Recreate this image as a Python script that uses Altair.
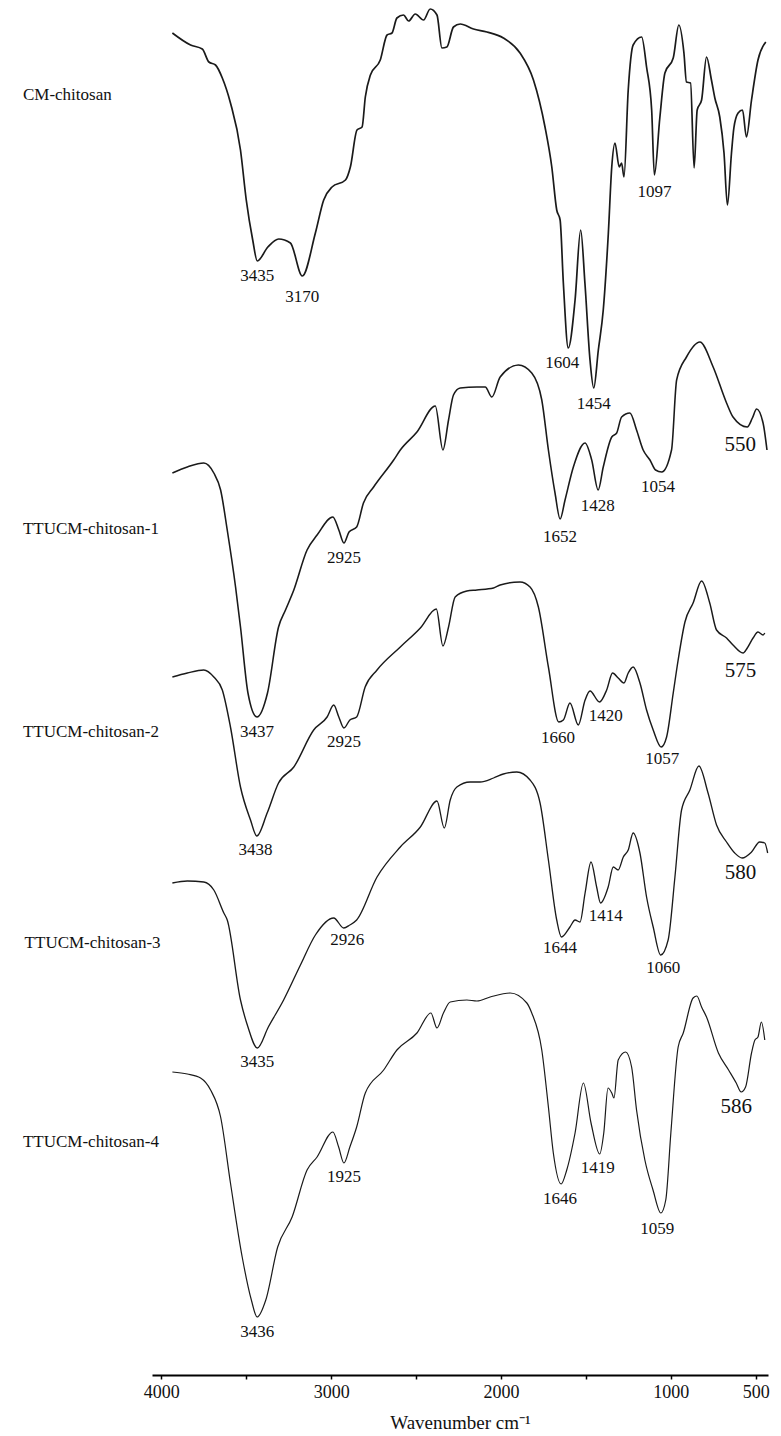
import altair as alt
import pandas as pd

# FTIR spectra, stacked with a vertical offset (arbitrary transmittance units)
SAMPLES = ["CM-chitosan", "TTUCM-chitosan-1", "TTUCM-chitosan-2",
           "TTUCM-chitosan-3", "TTUCM-chitosan-4"]

CM_WN = [3935, 3828, 3759, 3720, 3681, 3641, 3593, 3534, 3500, 3462, 3435, 3373, 3309, 3240,
         3170, 3093, 3044, 2995, 2916, 2887, 2848, 2818, 2799, 2769, 2711, 2671, 2642, 2613,
         2574, 2544, 2505, 2456, 2417, 2377, 2348, 2319, 2280, 2240, 2162, 2083, 1986, 1888,
         1809, 1741, 1701, 1672, 1652, 1633, 1604, 1564, 1531, 1506, 1476, 1454, 1427, 1398,
         1368, 1348, 1329, 1304, 1290, 1276, 1251, 1222, 1172, 1143, 1113, 1097, 1065, 1035,
         986, 953, 923, 908, 884, 863, 845, 819, 790, 761, 741, 712, 687, 667, 643, 629, 604,
         578, 555, 525, 487, 441]
CM_T = [134.2, 133.0, 132.6, 131.3, 131.0, 129.7, 127.2, 122.5, 117.5, 113.5, 111.4, 112.8,
        113.6, 113.2, 109.9, 114.2, 117.5, 118.8, 119.5, 120.8, 124.5, 124.8, 127.8, 130.0,
        131.5, 134.0, 134.2, 135.7, 136.0, 135.4, 136.1, 135.5, 136.6, 136.0, 132.7, 132.8,
        134.8, 135.1, 134.6, 134.3, 133.7, 132.2, 129.5, 124.8, 120.8, 116.5, 115.5, 109.2,
        102.7, 107.5, 114.5, 109.2, 101.5, 98.7, 102.5, 106.5, 114.2, 120.8, 123.2, 120.8,
        121.2, 119.8, 128.5, 133.0, 133.8, 130.8, 126.5, 120.0, 125.7, 130.2, 131.7, 135.0,
        132.2, 129.3, 129.2, 120.7, 126.5, 127.5, 131.8, 129.5, 127.7, 125.8, 122.2, 117.0,
        122.2, 124.7, 126.2, 126.5, 123.8, 127.5, 131.5, 133.3]

T1_WN = [3935, 3847, 3750, 3691, 3651, 3612, 3563, 3534, 3490, 3437, 3375, 3310, 3269, 3220,
         3142, 3083, 2990, 2955, 2925, 2895, 2850, 2810, 2750, 2632, 2593, 2495, 2387, 2342,
         2309, 2280, 2240, 2142, 2093, 2054, 2005, 1898, 1819, 1760, 1721, 1682, 1652, 1623,
         1574, 1505, 1466, 1428, 1398, 1348, 1319, 1290, 1241, 1202, 1163, 1123, 1090, 1054,
         996, 966, 908, 829, 751, 672, 634, 550, 520, 495, 457, 434]
T1_T = [90.2, 90.8, 91.2, 90.2, 88.5, 84.5, 78.8, 74.8, 68.2, 65.8, 68.2, 74.8, 76.5, 78.5,
        82.5, 84.0, 85.8, 84.5, 83.2, 84.3, 84.8, 87.2, 88.8, 91.5, 92.5, 94.3, 96.9, 92.5,
        95.5, 98.0, 98.7, 98.8, 98.8, 97.8, 99.8, 101.0, 100.2, 97.5, 92.5, 88.2, 85.6, 87.5,
        90.8, 93.2, 91.5, 88.5, 90.8, 93.8, 94.2, 95.8, 96.2, 94.5, 92.5, 91.5, 90.5, 90.3,
        92.5, 99.5, 101.8, 103.3, 100.8, 97.2, 95.8, 94.8, 95.7, 96.6, 95.2, 92.5]

T2_WN = [3935, 3847, 3750, 3691, 3641, 3593, 3534, 3475, 3438, 3377, 3310, 3220, 3103, 3024,
         2985, 2955, 2925, 2890, 2850, 2800, 2730, 2593, 2475, 2381, 2342, 2309, 2270, 2201,
         2142, 2044, 2005, 1888, 1829, 1780, 1721, 1660, 1633, 1594, 1545, 1505, 1476, 1420,
         1378, 1343, 1310, 1276, 1251, 1222, 1182, 1143, 1104, 1057, 1025, 986, 957, 917, 869,
         819, 771, 731, 672, 634, 575, 550, 516, 487, 457, 447]
T2_T = [69.8, 70.2, 70.5, 69.8, 68.5, 64.8, 58.8, 55.5, 53.9, 56.2, 59.2, 60.8, 64.5, 65.8,
        67.0, 65.8, 64.7, 65.5, 65.8, 68.8, 70.5, 72.8, 74.7, 76.6, 72.9, 74.8, 77.8, 78.4,
        78.5, 78.7, 79.0, 79.3, 78.8, 76.8, 70.8, 65.3, 65.5, 67.2, 65.0, 67.5, 68.4, 67.3,
        68.5, 70.2, 69.7, 69.2, 70.2, 70.8, 69.2, 66.5, 64.5, 62.8, 63.8, 68.2, 71.5, 75.3,
        77.2, 79.4, 77.2, 74.5, 73.7, 73.0, 72.2, 72.7, 73.7, 74.3, 74.0, 74.2]

T3_WN = [3935, 3847, 3750, 3691, 3632, 3612, 3534, 3490, 3435, 3370, 3280, 3181, 3093, 2985,
         2926, 2890, 2850, 2730, 2593, 2475, 2377, 2334, 2299, 2260, 2182, 2123, 2044, 1986,
         1907, 1829, 1770, 1721, 1672, 1644, 1594, 1564, 1535, 1505, 1470, 1437, 1414, 1369,
         1339, 1310, 1280, 1251, 1222, 1182, 1143, 1104, 1060, 1016, 976, 937, 888, 835, 781,
         731, 672, 624, 580, 525, 477, 447, 430]
T3_T = [49.2, 49.4, 49.3, 48.5, 46.2, 45.5, 37.5, 34.8, 32.7, 34.8, 37.5, 41.0, 44.0, 45.7,
        44.7, 45.0, 45.5, 49.8, 52.8, 54.8, 57.4, 54.7, 57.5, 58.8, 59.3, 59.3, 59.7, 60.1,
        60.3, 59.5, 57.2, 51.5, 45.5, 43.8, 44.8, 45.5, 45.3, 48.2, 51.3, 48.8, 47.2, 48.8,
        50.8, 50.5, 51.8, 52.5, 54.2, 52.2, 47.8, 44.8, 42.0, 43.5, 49.8, 56.5, 58.5, 60.9,
        58.2, 55.0, 53.3, 52.2, 51.7, 52.3, 53.3, 53.2, 52.2]

T4_WN = [3935, 3847, 3769, 3710, 3651, 3593, 3524, 3470, 3436, 3385, 3315, 3230, 3142, 3083,
         2990, 2956, 2925, 2890, 2850, 2799, 2691, 2613, 2495, 2413, 2377, 2339, 2299, 2201,
         2142, 2064, 1946, 1848, 1819, 1760, 1721, 1692, 1646, 1613, 1564, 1515, 1470, 1419,
         1395, 1370, 1348, 1335, 1310, 1266, 1231, 1202, 1153, 1105, 1059, 1030, 1000, 957,
         927, 869, 847, 819, 790, 720, 660, 615, 586, 560, 525, 505, 487, 467, 447]
T4_T = [30.3, 30.1, 29.7, 28.5, 25.8, 19.2, 11.8, 7.5, 5.8, 7.5, 12.8, 15.8, 20.5, 21.8,
        24.3, 22.8, 21.2, 22.8, 24.8, 28.2, 30.5, 32.5, 34.2, 36.2, 34.7, 36.2, 37.3, 37.5,
        37.4, 37.8, 38.2, 37.2, 36.2, 32.5, 26.8, 22.2, 19.1, 20.5, 24.2, 29.2, 25.2, 22.1,
        24.2, 28.7, 28.2, 27.7, 31.5, 32.3, 30.8, 26.5, 21.5, 18.5, 16.2, 17.5, 24.2, 32.8,
        34.2, 37.7, 37.9, 36.8, 35.8, 32.2, 30.5, 29.2, 28.3, 28.8, 32.2, 33.5, 33.8, 35.3,
        33.5]

# Sample name labels, left of the traces (x in wavenumber units, beyond the axis)
NAME_WN = [4815, 4815, 4815, 4805, 4815]
NAME_T = [128.0, 84.6, 64.3, 43.2, 23.3]

# Peak annotations
PEAK_TEXT = ["3435", "3170", "1604", "1454", "1097",
             "3437", "2925", "1652", "1428", "1054", "550",
             "3438", "2925", "1660", "1420", "1057", "575",
             "3435", "2926", "1644", "1414", "1060", "580",
             "3436", "1925", "1646", "1419", "1059", "586"]
PEAK_WN = [3435, 3170, 1640, 1454, 1097,
           3437, 2925, 1652, 1430, 1075, 591,
           3445, 2925, 1665, 1383, 1050, 590,
           3435, 2905, 1652, 1383, 1045, 590,
           3436, 2925, 1652, 1430, 1080, 615]
PEAK_T = [109.9, 107.8, 101.2, 97.1, 118.3,
          64.3, 81.7, 83.8, 86.9, 88.8, 93.0,
          52.5, 63.3, 63.7, 65.9, 61.6, 70.4,
          31.3, 43.5, 42.7, 45.9, 40.7, 50.2,
          4.3, 19.8, 17.6, 20.7, 14.6, 26.8]

TICKS = [4000, 3500, 3000, 2500, 2000, 1500, 1000, 500]

series = [(SAMPLES[0], CM_WN, CM_T), (SAMPLES[1], T1_WN, T1_T), (SAMPLES[2], T2_WN, T2_T),
          (SAMPLES[3], T3_WN, T3_T), (SAMPLES[4], T4_WN, T4_T)]
spectra = pd.concat([pd.DataFrame({"sample": n, "wavenumber": w, "T": t})
                     for n, w, t in series], ignore_index=True)
names = pd.DataFrame({"sample": SAMPLES, "wavenumber": NAME_WN, "T": NAME_T})
peaks = pd.DataFrame({"label": PEAK_TEXT, "wavenumber": PEAK_WN, "T": PEAK_T})
peaks["big"] = peaks["label"].str.len() < 4

FONT = "Liberation Serif"
x_scale = alt.Scale(domain=[428, 4055], reverse=True, nice=False, zero=False)
y_scale = alt.Scale(domain=[0, 137.5], nice=False, zero=False)

x_axis = alt.Axis(
    values=TICKS,
    labelExpr="(datum.value % 1000 === 0 || datum.value === 500) ? '' + datum.value : ''",
    grid=False, domainColor="#000", domainWidth=2, tickColor="#000", tickWidth=1.5,
    tickSize=4, labelFont=FONT, labelFontSize=18, labelColor="#111", labelPadding=4,
    labelFlush=False, labelOverlap=False, titleFont=FONT, titleFontSize=19,
    titleFontWeight="normal", titleColor="#111", titlePadding=12,
)

lines = alt.Chart(spectra).mark_line(interpolate="monotone", color="#1a1a1a").encode(
    x=alt.X("wavenumber:Q", scale=x_scale, axis=x_axis, title="Wavenumber cm⁻¹"),
    y=alt.Y("T:Q", scale=y_scale, axis=None),
    detail="sample:N",
    order=alt.Order("wavenumber:Q", sort="descending"),
    strokeWidth=alt.StrokeWidth("sample:N", scale=alt.Scale(domain=SAMPLES,
                                range=[1.7, 1.2, 1.2, 1.2, 1.2]), legend=None),
)

name_text = alt.Chart(names).mark_text(align="left", baseline="middle", font=FONT,
                                       fontSize=17, color="#111").encode(
    x=alt.X("wavenumber:Q", scale=x_scale),
    y=alt.Y("T:Q", scale=y_scale),
    text="sample:N",
)

peak_text = alt.Chart(peaks).mark_text(align="center", baseline="middle", font=FONT,
                                       color="#111").encode(
    x=alt.X("wavenumber:Q", scale=x_scale),
    y=alt.Y("T:Q", scale=y_scale),
    text="label:N",
    size=alt.Size("big:N", scale=alt.Scale(domain=[False, True], range=[17, 21]), legend=None),
)

chart = alt.layer(lines, name_text, peak_text).properties(
    width=616, height=1375,
    autosize=alt.AutoSizeParams(type="none"),
    padding={"left": 152, "top": 0, "right": 13, "bottom": 61},
    background="white",
).configure_view(stroke=None)

chart.save("out.html", embed_options={"renderer": "svg", "actions": False})
